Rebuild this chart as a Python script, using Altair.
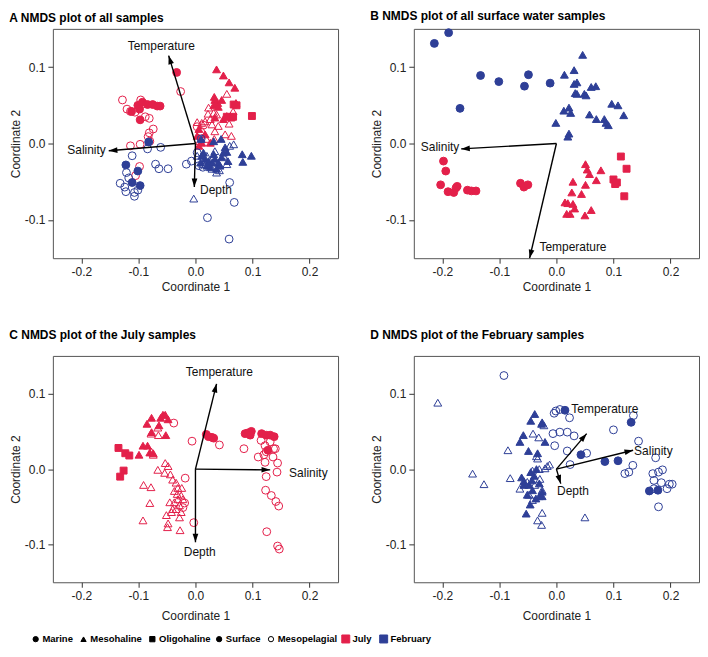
import math
import altair as alt
import pandas as pd

RED = "#E3204A"
BLUE = "#2E3F97"
FONT = "Liberation Sans"
W, H1, H2 = 286, 230, 227

MONTHS = ["July", "February"]
SALIN = ["Marine", "Mesohaline", "Oligohaline"]
LAYERS = ["Surface", "Mesopelagial"]
MARK_SIZE = {"Marine": 62, "Mesohaline": 62, "Oligohaline": 48}

# ---------------- Panel A : all samples ----------------
a_jul_mar_sur = ([-0.033, -0.112, -0.101, -0.093, -0.084, -0.075, -0.067, -0.062, -0.097, -0.098],
                 [0.093, 0.042, 0.050, 0.054, 0.051, 0.051, 0.049, 0.049, 0.031, 0.045])
a_jul_mar_mes = ([-0.128, -0.120, -0.114, -0.106, -0.096, -0.091, -0.088, -0.081, -0.074, -0.081, -0.083, -0.080,
                  -0.097, -0.114, -0.098, -0.105, -0.026, 0.003, 0.014, 0.009],
                 [0.057, 0.045, 0.042, 0.041, 0.057, 0.052, 0.035, 0.033, 0.019, 0.014, 0.009, 0.003,
                  -0.001, -0.003, -0.030, -0.042, 0.068, 0.022, 0.024, 0.016])
a_jul_mso_sur = ([0.037, 0.049, 0.059, 0.069, 0.033, 0.034, 0.039, 0.046, 0.032, 0.040, 0.071, 0.034, 0.049, 0.055,
                  0.006, 0.003, 0.011, 0.026, 0.006, 0.017],
                 [0.097, 0.089, 0.080, 0.073, 0.061, 0.057, 0.053, 0.057, 0.050, 0.048, 0.053, 0.034, 0.032, 0.036,
                  0.019, 0.010, 0.001, 0.001, -0.003, 0.012])
a_jul_mso_mes = ([0.055, 0.023, 0.022, 0.032, 0.037, 0.017, 0.029, 0.059, 0.066, 0.063, 0.052, 0.034, 0.003, 0.011,
                  0.026, 0.040, 0.007, 0.019, 0.033],
                 [0.065, 0.047, 0.039, 0.040, 0.038, 0.029, 0.025, 0.026, 0.042, 0.010, 0.012, 0.016, 0.028, 0.027,
                  0.032, 0.023, 0.003, 0.006, 0.006])
a_jul_oli_sur = ([0.067, 0.072, 0.063, 0.055, 0.099, 0.066],
                 [0.051, 0.050, 0.034, 0.035, 0.036, 0.035])
a_feb_mar_sur = ([-0.082, -0.122, -0.101, -0.111, -0.097],
                 [0.002, -0.028, -0.036, -0.051, -0.055])
a_feb_mar_mes = ([-0.084, -0.061, -0.111, -0.070, -0.064, -0.048, -0.121, -0.117, -0.132, -0.124, -0.122, -0.107,
                  -0.107, -0.101, -0.016, -0.007, 0.060, 0.068, 0.021, 0.059, 0.006, 0.013, 0.010, 0.003],
                 [-0.007, -0.005, -0.016, -0.027, -0.033, -0.033, -0.038, -0.045, -0.052, -0.057, -0.063, -0.064,
                  -0.069, -0.061, -0.027, -0.023, -0.051, -0.077, -0.097, -0.125, -0.029, -0.031, 0.006, -0.012])
a_feb_mso_sur = ([0.010, 0.032, 0.045, 0.057, 0.082, 0.083, 0.098, 0.052, 0.055, 0.011, 0.017, 0.023, 0.029, 0.034,
                  0.040, 0.046, 0.037, 0.026, 0.032, 0.014, 0.049, 0.020, 0.043, 0.009],
                 [0.006, 0.003, 0.006, -0.023, -0.014, -0.024, -0.016, -0.005, -0.011, -0.016, -0.020, -0.023,
                  -0.025, -0.020, -0.025, -0.018, -0.033, -0.031, -0.014, -0.012, -0.012, -0.029, -0.029, -0.025])
a_feb_mso_mes = ([-0.003, 0.042, 0.037, 0.060, 0.067, 0.003, 0.029, 0.049, 0.020, 0.034, 0.014, 0.055],
                 [-0.072, -0.035, -0.038, -0.003, -0.001, -0.016, -0.033, -0.016, -0.016, -0.010, -0.027, -0.027])

# ---------------- Panel B : surface samples ----------------
b_feb_mar_sur = ([-0.214, -0.189, -0.133, -0.101, -0.049, -0.056, -0.011, -0.169],
                 [0.131, 0.145, 0.089, 0.081, 0.090, 0.075, 0.079, 0.046])
b_feb_mso_sur = ([0.046, 0.014, 0.031, 0.031, 0.036, 0.033, 0.036, 0.049, 0.052, 0.061, 0.069, 0.013, 0.022, 0.025,
                  0.058, 0.070, -0.001, 0.022, 0.020, 0.097, 0.108, 0.118, 0.084, 0.087, 0.091],
                 [0.116, 0.090, 0.096, 0.078, 0.080, 0.066, 0.065, 0.065, 0.063, 0.074, 0.075, 0.043, 0.047, 0.040,
                  0.038, 0.032, 0.027, 0.013, 0.009, 0.052, 0.050, 0.037, 0.032, 0.027, 0.024])
b_jul_mar_sur = ([-0.198, -0.194, -0.203, -0.190, -0.180, -0.176, -0.174, -0.156, -0.149, -0.141, -0.063, -0.057, -0.050],
                 [-0.023, -0.036, -0.054, -0.063, -0.064, -0.058, -0.056, -0.061, -0.062, -0.062, -0.052, -0.057, -0.054])
b_jul_mso_sur = ([0.051, 0.054, 0.058, 0.078, 0.029, 0.051, 0.070, 0.027, 0.044, 0.015, 0.020, 0.029, 0.032, 0.018,
                  0.024, 0.050, 0.061],
                 [-0.027, -0.034, -0.040, -0.035, -0.050, -0.054, -0.048, -0.064, -0.066, -0.077, -0.078, -0.079,
                  -0.085, -0.092, -0.092, -0.094, -0.087])
b_jul_oli_sur = ([0.113, 0.123, 0.100, 0.106, 0.103, 0.119],
                 [-0.017, -0.033, -0.047, -0.051, -0.053, -0.069])

# ---------------- Panel C : July samples ----------------
c_jul_mar_sur = ([0.019, 0.023, 0.029, 0.032, 0.087, 0.092, 0.098, 0.096, 0.116, 0.124, 0.131, 0.138, 0.127],
                 [0.046, 0.043, 0.042, 0.041, 0.047, 0.048, 0.050, 0.045, 0.047, 0.045, 0.045, 0.043, 0.025])
c_jul_mar_mes = ([-0.038, -0.006, 0.042, 0.085, 0.110, 0.120, 0.122, 0.131, 0.140, 0.136, 0.122, 0.144, 0.124, 0.143,
                  0.123, 0.133, 0.141, 0.146, 0.125, 0.144, 0.147, -0.018, -0.003, 0.124, 0.115, 0.137, -0.019, -0.022],
                 [0.061, 0.037, 0.032, 0.027, 0.016, 0.019, 0.031, 0.036, 0.027, 0.016, 0.009, 0.008, -0.010, -0.004,
                  -0.028, -0.035, -0.043, -0.049, -0.083, -0.102, -0.106, -0.012, -0.071, 0.023, 0.038, 0.027,
                  -0.045, -0.051])
c_jul_mso_sur = ([-0.077, -0.085, -0.057, -0.053, -0.061, -0.048, -0.064, -0.052, -0.092, -0.084, -0.099, -0.080,
                  -0.074, -0.077],
                 [0.068, 0.060, 0.072, 0.072, 0.068, 0.066, 0.058, 0.045, 0.031, 0.031, 0.019, 0.022, 0.021, 0.049])
c_jul_mso_mes = ([-0.066, -0.078, -0.065, -0.077, -0.074, -0.053, -0.048, -0.066, -0.054, -0.044, -0.040, -0.034,
                  -0.031, -0.037, -0.024, -0.091, -0.078, -0.080, -0.092, -0.051, -0.048, -0.049, -0.027, -0.031,
                  -0.037, -0.028, -0.034, -0.025, -0.028, -0.040, -0.022, -0.045, -0.032, -0.025, -0.042],
                 [0.055, 0.047, 0.045, 0.023, 0.019, 0.008, 0.004, -0.001, -0.005, -0.007, -0.014, -0.018, -0.025,
                  -0.029, -0.025, -0.021, -0.024, -0.045, -0.068, -0.061, -0.072, -0.077, -0.081, -0.040, -0.044,
                  -0.048, -0.053, -0.057, -0.064, -0.053, -0.040, -0.044, -0.033, -0.035, -0.057])
c_jul_oli_sur = ([-0.135, -0.123, -0.116, -0.126, -0.132],
                 [0.028, 0.021, 0.018, -0.002, -0.010])

# ---------------- Panel D : February samples ----------------
d_feb_mar_sur = ([0.015, 0.043, 0.085, 0.108, 0.131, 0.163, 0.178],
                 [0.078, 0.019, 0.010, 0.011, 0.062, -0.029, -0.028])
d_feb_mar_mes = ([-0.092, -0.001, 0.006, -0.004, 0.023, -0.006, 0.006, 0.019, 0.031, -0.003, 0.019, 0.053, 0.024,
                  0.100, 0.135, 0.144, 0.134, 0.120, 0.127, 0.174, 0.169, 0.179, 0.186, 0.171, 0.184, 0.194, 0.198,
                  0.203, 0.179, 0.171],
                 [0.124, 0.077, 0.079, 0.074, 0.068, 0.047, 0.049, 0.049, 0.044, 0.031, 0.024, 0.021, 0.006,
                  0.052, 0.071, 0.037, 0.005, -0.006, -0.004, 0.015, -0.006, -0.004, -0.001, -0.015, -0.018,
                  -0.026, -0.020, -0.020, -0.050, -0.026])
d_feb_mso_sur = ([-0.038, -0.045, -0.025, -0.020, -0.058, -0.064, -0.049, -0.033, -0.035, -0.061, -0.057, -0.048,
                  -0.042, -0.051, -0.046, -0.053, -0.036, -0.025, -0.030, -0.039, -0.043, -0.030, -0.025, -0.057,
                  -0.045, -0.026],
                 [0.073, 0.064, 0.062, 0.036, 0.045, 0.036, 0.024, 0.021, 0.000, -0.011, -0.016, -0.021, -0.028,
                  -0.034, -0.047, -0.059, -0.039, -0.030, -0.036, -0.009, -0.015, -0.019, -0.036, -0.021, -0.004,
                  0.060])
d_feb_mso_mes = ([-0.208, -0.147, -0.127, -0.085, -0.081, 0.050, -0.041, -0.031, -0.022, -0.035, -0.033, -0.042,
                  -0.030, -0.016, -0.012, -0.020, -0.064, -0.048, -0.042, -0.025, -0.033, -0.026, -0.051, -0.038,
                  -0.029, -0.025],
                 [0.088, -0.006, -0.020, 0.025, -0.012, -0.064, 0.047, 0.042, 0.058, 0.017, 0.014, -0.002, 0.000,
                  0.004, 0.006, 0.001, -0.026, -0.034, -0.041, -0.058, -0.068, -0.074, -0.017, -0.021, -0.013,
                  -0.028])

# ---------------- Environmental vectors (name, tip x, tip y, label x, label y) ----------------
a_vec_names = ["Temperature", "Salinity", "Depth"]
a_vec_x = [-0.047, -0.152, -0.002]
a_vec_y = [0.115, -0.0095, -0.057]
a_lab_x = [-0.060, -0.191, 0.036]
a_lab_y = [0.128, -0.008, -0.061]

b_vec_names = ["Salinity", "Temperature"]
b_vec_x = [-0.167, -0.047]
b_vec_y = [-0.007, -0.150]
b_lab_x = [-0.204, 0.029]
b_lab_y = [-0.004, -0.135]

c_vec_names = ["Temperature", "Salinity", "Depth"]
c_vec_x = [0.037, 0.131, 0.0]
c_vec_y = [0.113, -0.001, -0.097]
c_lab_x = [0.042, 0.198, 0.0075]
c_lab_y = [0.129, -0.005, -0.110]

d_vec_names = ["Temperature", "Salinity", "Depth"]
d_vec_x = [0.053, 0.1345, 0.0076]
d_vec_y = [0.047, 0.025, -0.0193]
d_lab_x = [0.085, 0.170, 0.029]
d_lab_y = [0.079, 0.024, -0.029]

XDOM = [-0.25, 0.25]
YDOM = [-0.15, 0.15]
ARROW = "M0,0L-0.33,1L0.33,1Z"
MINUS_FIX = "replace(datum.label, '\u2212', '-')"


def points_frame(groups):
    rows = []
    for (month, sal, layer), (xs, ys) in groups:
        for x, y in zip(xs, ys):
            rows.append({"x": x, "y": y, "month": month, "salinity": sal, "layer": layer,
                         "sz": MARK_SIZE[sal]})
    return pd.DataFrame(rows)


def vec_frame(names, vx, vy, lx, ly, h):
    sx = W / (XDOM[1] - XDOM[0])
    sy = h / (YDOM[1] - YDOM[0])
    rows = []
    for n, x, y, tx, ty in zip(names, vx, vy, lx, ly):
        ang = math.degrees(math.atan2(x * sx, y * sy)) % 360
        rows.append({"name": n, "x0": 0.0, "y0": 0.0, "xe": x, "ye": y, "lx": tx, "ly": ty, "ang": ang})
    return pd.DataFrame(rows)


# legend positions are relative to the first panel's plot origin
LEG_Y = 607
leg_common = dict(orient="none", direction="horizontal", title=None, labelFont=FONT, labelFontSize=9.5,
                  labelFontWeight="bold", labelColor="black", labelOffset=2, columnPadding=5,
                  legendY=LEG_Y, symbolStrokeWidth=1, padding=0)
month_scale = alt.Scale(domain=MONTHS, range=[RED, BLUE])
month_legend = alt.Legend(legendX=289, symbolType="square", symbolSize=64, **leg_common)
shape_legend = alt.Legend(legendX=-22, symbolFillColor="black", symbolStrokeColor="black", symbolSize=28,
                          **leg_common)
layer_legend = alt.Legend(legendX=162, symbolType="circle", symbolStrokeColor="black", symbolSize=28,
                          symbolOpacity=1, **leg_common)


def xenc(field, tpad):
    return alt.X(field, type="quantitative", scale=alt.Scale(domain=XDOM, nice=False, zero=False),
                 axis=alt.Axis(values=[-0.2, -0.1, 0.0, 0.1, 0.2], format=".1f", labelExpr=MINUS_FIX,
                               title="Coordinate 1", titlePadding=tpad))


def yenc(field):
    return alt.Y(field, type="quantitative", scale=alt.Scale(domain=YDOM, nice=False, zero=False),
                 axis=alt.Axis(values=[-0.1, 0.0, 0.1], format=".1f", labelExpr=MINUS_FIX,
                               title="Coordinate 2", titlePadding=2))


def panel(title, groups, vec, h, toff, tpad, with_layer_key=False):
    pts = alt.Chart(points_frame(groups)).mark_point(filled=True, strokeWidth=1, opacity=1).encode(
        x=xenc("x", tpad), y=yenc("y"),
        fill=alt.Fill("month:N", scale=month_scale, legend=month_legend),
        stroke=alt.Stroke("month:N", scale=month_scale, legend=month_legend),
        shape=alt.Shape("salinity:N", scale=alt.Scale(domain=SALIN, range=["circle", "triangle-up", "square"]),
                        legend=shape_legend),
        size=alt.Size("sz:Q", scale=None),
        fillOpacity=alt.FillOpacity("layer:N", scale=alt.Scale(domain=LAYERS, range=[1, 0]), legend=None),
    )
    rules = alt.Chart(vec).mark_rule(color="black", strokeWidth=1.4).encode(
        x=xenc("x0", tpad), y=yenc("y0"), x2="xe:Q", y2="ye:Q")
    heads = alt.Chart(vec).mark_point(shape=ARROW, filled=True, color="black", size=300, opacity=1).encode(
        x=xenc("xe", tpad), y=yenc("ye"), angle=alt.Angle("ang:Q", scale=None))
    labels = alt.Chart(vec).mark_text(font=FONT, fontSize=12, color="#111").encode(
        x=xenc("lx", tpad), y=yenc("ly"), text="name:N")
    layers = [pts, rules, heads, labels]
    if with_layer_key:
        # invisible layer that only carries the Surface / Mesopelagial key
        key = alt.Chart(pd.DataFrame({"layer": LAYERS})).mark_point(filled=True, opacity=0).encode(
            color=alt.Color("layer:N", scale=alt.Scale(domain=LAYERS, range=["black", "white"]),
                            legend=layer_legend))
        layers.append(key)
    return alt.layer(*layers).properties(
        width=W, height=h,
        title=alt.TitleParams(text=title, anchor="start", frame="bounds", font=FONT, fontSize=12,
                              fontWeight="bold", color="black", offset=toff))


A = panel("A NMDS plot of all samples", [
    (("July", "Marine", "Surface"), a_jul_mar_sur),
    (("July", "Marine", "Mesopelagial"), a_jul_mar_mes),
    (("July", "Mesohaline", "Surface"), a_jul_mso_sur),
    (("July", "Mesohaline", "Mesopelagial"), a_jul_mso_mes),
    (("July", "Oligohaline", "Surface"), a_jul_oli_sur),
    (("February", "Marine", "Surface"), a_feb_mar_sur),
    (("February", "Marine", "Mesopelagial"), a_feb_mar_mes),
    (("February", "Mesohaline", "Surface"), a_feb_mso_sur),
    (("February", "Mesohaline", "Mesopelagial"), a_feb_mso_mes),
], vec_frame(a_vec_names, a_vec_x, a_vec_y, a_lab_x, a_lab_y, H1), H1, 4, 4, with_layer_key=True)

B = panel("B NMDS plot of all surface water samples", [
    (("February", "Marine", "Surface"), b_feb_mar_sur),
    (("February", "Mesohaline", "Surface"), b_feb_mso_sur),
    (("July", "Marine", "Surface"), b_jul_mar_sur),
    (("July", "Mesohaline", "Surface"), b_jul_mso_sur),
    (("July", "Oligohaline", "Surface"), b_jul_oli_sur),
], vec_frame(b_vec_names, b_vec_x, b_vec_y, b_lab_x, b_lab_y, H1), H1, 4, 4)

C = panel("C NMDS plot of the July samples", [
    (("July", "Marine", "Surface"), c_jul_mar_sur),
    (("July", "Marine", "Mesopelagial"), c_jul_mar_mes),
    (("July", "Mesohaline", "Surface"), c_jul_mso_sur),
    (("July", "Mesohaline", "Mesopelagial"), c_jul_mso_mes),
    (("July", "Oligohaline", "Surface"), c_jul_oli_sur),
], vec_frame(c_vec_names, c_vec_x, c_vec_y, c_lab_x, c_lab_y, H2), H2, 14, 9)

D = panel("D NMDS plot of the February samples", [
    (("February", "Marine", "Surface"), d_feb_mar_sur),
    (("February", "Marine", "Mesopelagial"), d_feb_mar_mes),
    (("February", "Mesohaline", "Surface"), d_feb_mso_sur),
    (("February", "Mesohaline", "Mesopelagial"), d_feb_mso_mes),
], vec_frame(d_vec_names, d_vec_x, d_vec_y, d_lab_x, d_lab_y, H2), H2, 14, 9)

chart = alt.vconcat(
    alt.hconcat(A, B, spacing=30),
    alt.hconcat(C, D, spacing=30),
    spacing=35,
).properties(
    padding={"left": 0, "top": 0, "right": 0, "bottom": 0}
).configure_view(
    stroke="#555", strokeWidth=1
).configure_axis(
    grid=False, domain=False, ticks=True, tickSize=5, tickColor="#333", labelPadding=3,
    labelFont=FONT, labelFontSize=12, labelColor="#222",
    titleFont=FONT, titleFontSize=12, titleFontWeight="normal", titleColor="#222"
)

chart.save("out.html", embed_options={"renderer": "svg", "actions": False})
